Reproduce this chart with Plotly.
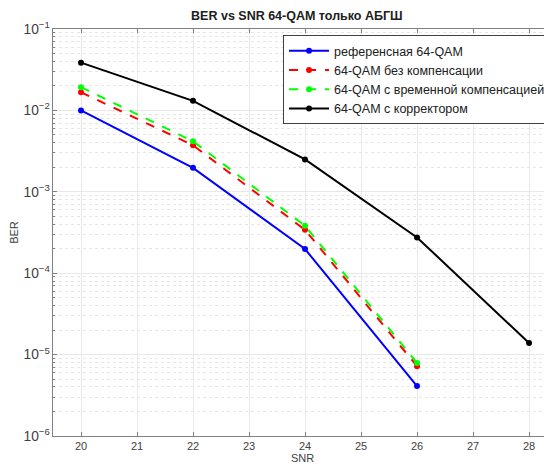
import plotly.graph_objects as go

snr = [20, 22, 24, 26, 28]
ber_ref = [1.0e-2, 1.97e-3, 1.98e-4, 4.1e-6]
ber_nocomp = [1.67e-2, 3.73e-3, 3.41e-4, 7.2e-6]
ber_timecomp = [1.93e-2, 4.18e-3, 3.82e-4, 7.9e-6]
ber_corr = [3.86e-2, 1.31e-2, 2.5e-3, 2.75e-4, 1.39e-5]

names = ["референсная 64-QAM", "64-QAM без компенсации",
         "64-QAM с временной компенсацией", "64-QAM с корректором"]
x_ticks = [20, 21, 22, 23, 24, 25, 26, 27, 28]

FONT = "Liberation Sans, Arial, sans-serif"
fig = go.Figure()
series = [
    (ber_ref, names[0], "#0000FF", "solid"),
    (ber_nocomp, names[1], "#FF0000", "dash"),
    (ber_timecomp, names[2], "#00FF00", "dash"),
    (ber_corr, names[3], "#000000", "solid"),
]
for vals, nm, col, dash in series:
    fig.add_trace(go.Scatter(
        x=snr[:len(vals)], y=vals, name=nm, mode="lines+markers",
        line=dict(color=col, width=2, dash=dash),
        marker=dict(color=col, size=6, symbol="circle"),
    ))

axis_common = dict(
    showline=True, mirror="ticks", linecolor="#808080", linewidth=1,
    ticks="inside", ticklen=4, tickcolor="#808080",
    showgrid=True, gridcolor="#e8e8e8", gridwidth=1,
    tickfont=dict(family=FONT, size=11, color="#404040"),
    zeroline=False, automargin=False,
)

# page has an 8px body margin, so the figure is sized to fit the window
fig.update_layout(
    width=544, height=463,
    margin=dict(l=45, r=0, t=21, b=35),
    paper_bgcolor="white", plot_bgcolor="white",
    title=dict(text="<b>BER vs SNR 64-QAM только АБГШ</b>",
               x=0.531, xanchor="center", y=0.984, yanchor="middle",
               font=dict(family=FONT, size=12.5, color="#202020")),
    xaxis=dict(range=[19.5, 28.41], tickvals=x_ticks,
               title=dict(text="SNR", font=dict(family=FONT, size=11, color="#404040"), standoff=3),
               **axis_common),
    yaxis=dict(type="log", range=[-6, -1], dtick=1, exponentformat="power",
               title=dict(text="BER", font=dict(family=FONT, size=11, color="#404040"), standoff=6),
               minor=dict(ticks="inside", ticklen=2, tickcolor="#808080",
                          showgrid=True, gridcolor="#e6e6e6", griddash="dot"),
               **axis_common),
    legend=dict(x=0.461, y=0.985, xanchor="left", yanchor="top",
                bgcolor="white", bordercolor="#404040", borderwidth=1,
                font=dict(family=FONT, size=12.5, color="#202020"),
                itemwidth=40, tracegroupgap=0),
    showlegend=True,
)

fig.write_html("out.html")
